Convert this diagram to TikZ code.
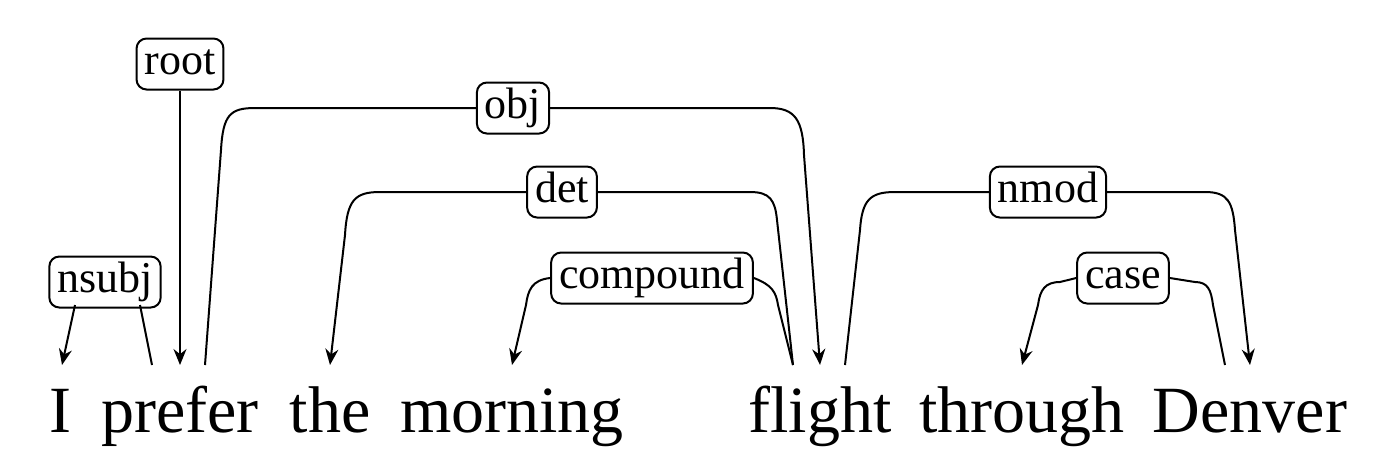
\documentclass[tikz,border=0pt]{standalone}
\usepackage{fontspec}
\setmainfont{Liberation Serif}
\usetikzlibrary{arrows.meta}
\begin{document}
\begin{tikzpicture}[x=0.5pt,y=-0.5pt,
  word/.style={anchor=base,font=\fontsize{33}{36}\selectfont,inner sep=0pt},
  lab/.style={draw,rounded corners=5pt,line width=1pt,font=\fontsize{22}{26}\selectfont,inner xsep=4pt,inner ysep=3pt,text height=15pt,text depth=4.5pt,fill=white},
  arc/.style={line width=1pt},
  arr/.style={-{Stealth[length=8pt,width=6.5pt]}}]
\useasboundingbox (0,0) rectangle (1397,463);
% words
\node[word] (w1) at (60,432) {I};
\node[word] (w2) at (180,432) {prefer};
\node[word] (w3) at (330,432) {the};
\node[word] (w4) at (512,432) {morning};
\node[word] (w5) at (820,432) {flight};
\node[word] (w6) at (1022,432) {through};
\node[word] (w7) at (1250,432) {Denver};
% labels
\node[lab] (nsubj) at (105,282) {nsubj};
\node[lab] (root) at (180,64) {root};
\node[lab] (obj) at (513,108) {obj};
\node[lab] (det) at (562,192) {det};
\node[lab] (comp) at (652,278) {compound};
\node[lab] (nmod) at (1048,192) {nmod};
\node[lab] (case) at (1123,278) {case};
% endpoints
\coordinate (i1) at (62,365);
\coordinate (p1) at (152,365);
\coordinate (p2) at (180,365);
\coordinate (p3) at (205,365);
\coordinate (t1) at (330,365);
\coordinate (m1) at (512,365);
\coordinate (f1) at (793,365);
\coordinate (f2) at (820,365);
\coordinate (f3) at (845,365);
\coordinate (th1) at (1022,365);
\coordinate (d1) at (1225,365);
\coordinate (d2) at (1250,365);
% connectors
\draw[arc,arr] (75,305) -- (i1);
\draw[arc] (140,305) -- (p1);
\draw[arc,arr] (root.south) -- (p2);
\draw[arc] (p3) -- (221,150) .. controls (223,115) and (230,108) .. (255,108) -- (obj.west);
\draw[arc,arr] (obj.east) -- (770,108) .. controls (795,108) and (803,120) .. (804,155) -- (f2);
\draw[arc,arr] (det.west) -- (380,192) .. controls (355,192) and (347,200) .. (345,235) -- (t1);
\draw[arc] (det.east) -- (750,192) .. controls (770,192) and (775,200) .. (777,220) -- (f1);
\draw[arc,arr] (comp.west) .. controls (532,280) and (528,290) .. (526,305) -- (m1);
\draw[arc] (comp.east) .. controls (772,285) and (776,292) .. (778,305) -- (f1);
\draw[arc] (f3) -- (860,230) .. controls (862,200) and (870,192) .. (895,192) -- (nmod.west);
\draw[arc,arr] (nmod.east) -- (1205,192) .. controls (1228,192) and (1233,202) .. (1235,230) -- (d2);
\draw[arc,arr] (case.west) -- (1060,282) .. controls (1045,282) and (1040,290) .. (1038,305) -- (th1);
\draw[arc] (case.east) -- (1195,282) .. controls (1208,282) and (1211,290) .. (1213,305) -- (d1);
\end{tikzpicture}
\end{document}
